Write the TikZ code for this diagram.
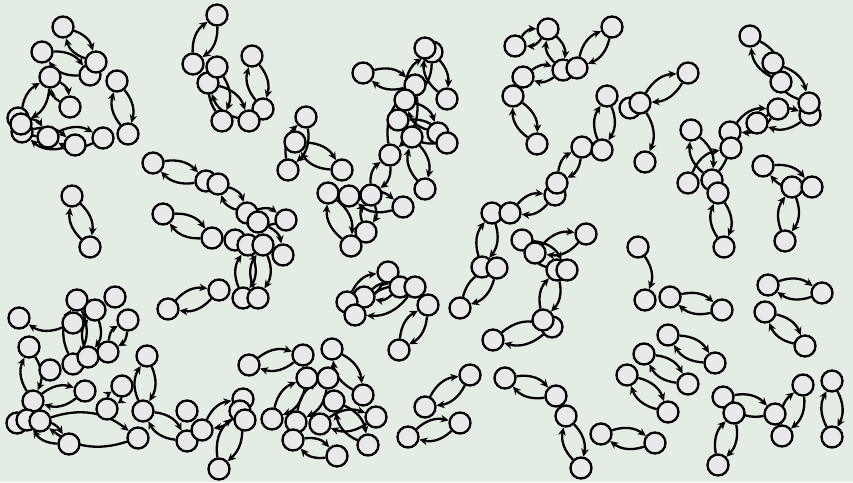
\documentclass[tikz,border=0pt]{standalone}
\usepackage{xcolor}
\definecolor{paper}{HTML}{E3EDE4}
\definecolor{vfill}{HTML}{E9E9EB}
\usetikzlibrary{arrows.meta}
\pgfdeclarelayer{back}
\pgfsetlayers{back,main}

\begin{document}
\begin{tikzpicture}[x=1pt,y=-1pt,
  vtx/.style={circle,draw,fill=vfill,line width=2.3pt,minimum size=21pt,inner sep=0pt},
  lnk/.style={-{Stealth[length=8pt,width=7.5pt,inset=2.5pt]},line width=2.3pt,bend left=28}]
  \useasboundingbox (0,0) rectangle (853,482);
  % vertices
  \foreach \n/\x/\y in {a4/90/75,a1/63/27,a2/42/52,a3/96/62,a5/50/77,a6/117/81,a7/70/107,a8/18/118,a10/22/132,a9/21/124,a11/48/137,a12/75/145,a13/103/138,a14/128/134,
    b1/217/15,b2/193/64,b4/208/83,b3/217/67,b5/252/56,b6/263/109,b7/222/121,b8/249/121,
    c3/432/52,c2/425/48,c1/363/73,c4/415/85,c5/447/99,c6/405/100,c7/398/120,c9/438/133,c8/412/137,c10/447/143,c11/390/155,c12/425/189,
    d1/306/117,d2/295/142,d3/288/170,d4/342/170,d5/328/193,d6/349/196,d7/371/195,d9/403/207,d10/366/232,d11/351/246,
    e1/153/163,e2/206/181,e3/218/184,e4/247/213,e5/258/222,e6/286/220,e7/163/214,e8/212/238,e9/235/240,e10/248/245,e11/263/245,e12/283/255,e13/168/309,e14/219/290,e15/243/298,e16/258/298,
    f1/72/196,f2/90/247,
    g1/388/272,g2/400/287,g3/415/287,g4/364/297,g5/347/302,g6/355/315,g7/428/305,g8/399/350,
    h1/582/147,h3/555/195,h2/557/183,h4/492/213,h5/510/213,h9/522/240,h10/535/253,h11/586/234,h12/557/270,h13/567/270,h6/482/267,h7/497/268,h8/460/308,h15/552/327,h14/543/320,h16/493/340,
    i1/515/46,i2/548/29,i3/523/77,i4/513/96,i5/563/70,i6/577/68,i7/612/27,i8/537/144,i9/607/96,i10/630/108,i11/640/103,i12/602/150,i13/688/73,i14/645/162,
    j1/750/36,j3/781/82,j2/773/63,j5/810/115,j4/809/103,j6/778/109,j7/757/123,j8/730/132,j9/731/148,j10/691/130,j11/688/183,j12/712/180,j13/718/193,j14/724/247,j15/763/166,j16/792/187,j17/812/187,j18/785/241,
    k1/638/247,k2/645/300,k3/670/297,k4/722/310,l1/768/285,l2/822/293,l3/765/312,l4/805/346,
    m1/668/335,m2/715/363,m3/644/354,m4/688/384,m5/627/375,m6/668/412,m7/723/397,m8/734/413,m9/775/414,m10/803/385,m11/782/436,m12/832/381,m13/832/437,m14/718/465,
    o1/470/375,o2/425/407,o3/460/423,o4/408/437,o5/505/378,o6/556/396,o7/566/416,o8/581/468,o9/601/434,o10/655/443,
    p1/19/318,p2/77/300,p3/73/323,p4/95/310,p5/115/297,p6/128/320,p7/29/347,p8/50/370,p9/73/364,p10/88/357,p11/108/352,p12/147/356,p13/85/391,p14/122/386,p15/33/401,p16/17/423,p17/27/420,p18/40/421,p19/107/409,p20/143/411,p21/138/438,p22/69/444,p23/187/411,p24/187/441,p25/202/430,
    q1/249/365,q2/303/355,q3/332/349,q4/307/378,q5/328/378,q6/363/395,q7/334/401,q8/243/399,q9/240/411,q10/245/420,q11/272/419,q12/296/422,q13/320/424,q14/376/417,q15/293/440,q16/368/445,q17/337/456,q18/219/469}
    \node[vtx] (\n) at (\x,\y) {};
  \begin{pgfonlayer}{back}
    \fill[paper] (0,0) rectangle (853,482);
    % links, drawn both ways
    \foreach \a/\b in {a1/a3,a2/a4,a5/a9,a5/a7,a8/a11,a11/a13,a12/a10,a6/a14,
      b1/b2,b5/b6,b3/b7,b4/b8,
      c1/c4,c2/c5,c3/c6,c7/c10,c6/c9,c8/c12,c4/c11,
      d1/d3,d2/d4,d5/d11,d6/d9,d7/c11,d10/d7,
      e1/e2,e3/e4,e4/e6,e7/e8,e10/e15,e11/e16,e12/e5,e13/e14,
      f1/f2,
      g1/g5,g2/g4,g3/g6,g7/g8,
      h1/h2,h5/h3,h4/h6,h7/h8,h10/h11,h9/h13,h12/h14,h15/h16,
      i1/i2,i2/i5,i3/i5,i4/i8,i6/i7,i9/i12,i11/i13,
      j1/j3,j2/j4,j8/j6,j7/j5,j10/j12,j9/j11,j13/j14,j15/j17,j16/j18,
      k3/k4,l1/l2,l3/l4,
      m1/m2,m3/m4,m5/m6,m7/m9,m8/m14,m10/m11,m12/m13,
      o1/o2,o3/o4,o5/o6,o7/o8,o9/o10,
      p7/p15,p13/p15,p12/p20,p22/p17,p20/p24,p14/p19,p6/p11,p2/p9,p4/p10,p18/p21,
      q1/q2,q3/q6,q4/q11,q5/q12,q7/q16,q13/q14,q9/q18,q8/p25,q15/q17}{
      \draw[lnk] (\a) to (\b);
      \draw[lnk] (\b) to (\a);
    }
    % one-way links
    \draw[lnk] (i11) to (i14);
    \draw[lnk] (k1) to (k2);
    \draw[lnk] (p3) to (p1);
  \end{pgfonlayer}
\end{tikzpicture}
\end{document}
